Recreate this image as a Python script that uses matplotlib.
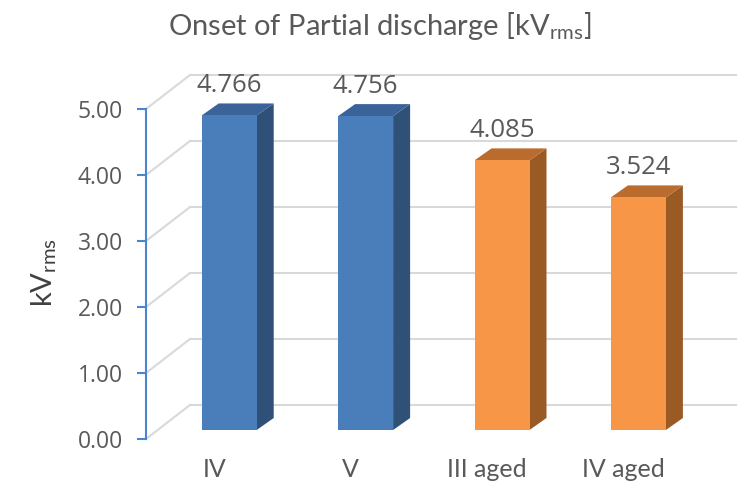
import matplotlib
matplotlib.use('Agg')
import matplotlib.pyplot as plt
from matplotlib.patches import Polygon

# data
categories = ['IV', 'V', 'III aged', 'IV aged']
values = [4.766, 4.756, 4.085, 3.524]
value_labels = ['4.766', '4.756', '4.085', '3.524']
yticks = [0, 1, 2, 3, 4, 5]

plt.rcParams['mathtext.fontset'] = 'custom'
plt.rcParams['mathtext.rm'] = 'Lato'

W, H = 739, 491
fig = plt.figure(figsize=(W / 100, H / 100), dpi=100)

# front plane of the pseudo 3d box (pixels)
left, bottom = 146, 52
ppx = 136.4   # pixels per category
ppy = 66.0    # pixels per kV
ax = fig.add_axes([left / W, bottom / H, 4 * ppx / W, 5 * ppy / H])
ax.set_xlim(-0.5, 3.5)
ax.set_ylim(0, 5)

# offsets in data units
bx, by = 15 / ppx, 9 / ppy      # plane where the bars stand
dx, dy = 17 / ppx, 12 / ppy     # bar depth
gx, gy = 44 / ppx, 34 / ppy     # back wall
bw = 55 / ppx

grid_c = '#d9d9d9'
for y in yticks:
    ax.plot([-0.5, -0.5 + gx], [y, y + gy], color=grid_c, lw=1.5, zorder=1, clip_on=False)
    ax.plot([-0.5 + gx, 3.5 + gx], [y + gy, y + gy], color=grid_c, lw=1.5, zorder=1, clip_on=False)

cols = [('#4a7ebb', '#3a6499', '#2f5077'), ('#4a7ebb', '#3a6499', '#2f5077'),
        ('#f79646', '#b96c2e', '#9a5a24'), ('#f79646', '#b96c2e', '#9a5a24')]

for i, v in enumerate(values):
    front, top, side = cols[i]
    x0 = i - bw / 2 + bx
    x1 = i + bw / 2 + bx
    y0 = by
    y1 = v + by
    ax.add_patch(Polygon([(x1, y0), (x1 + dx, y0 + dy), (x1 + dx, y1 + dy), (x1, y1)],
                         closed=True, fc=side, ec='none', zorder=3, clip_on=False))
    ax.add_patch(Polygon([(x0, y1), (x1, y1), (x1 + dx, y1 + dy), (x0 + dx, y1 + dy)],
                         closed=True, fc=top, ec='none', zorder=3, clip_on=False))
    ax.bar(i + bx, v, width=bw, bottom=by, color=front, zorder=4, clip_on=False)
    ax.annotate(value_labels[i], (i + bx, y1), xytext=(0, 23), textcoords='offset pixels',
                ha='center', va='baseline', fontsize=18.5, color='#595959',
                family='Open Sans', zorder=5, annotation_clip=False)

blue = '#4a86d0'
for s in ['top', 'right', 'bottom']:
    ax.spines[s].set_visible(False)
ax.spines['left'].set_color(blue)
ax.spines['left'].set_linewidth(1.5)
ax.set_yticks(yticks)
ax.set_yticklabels(['%.2f' % t for t in yticks], family='Open Sans', fontsize=16.5, color='#595959')
ax.tick_params(axis='y', length=6.5, width=1.5, color=blue, pad=10)
ax.set_xticks(range(len(categories)))
ax.set_xticklabels(categories, family='Lato', fontsize=18, color='#595959')
ax.tick_params(axis='x', length=0, pad=14)
ax.patch.set_visible(False)

fig.text(380 / W, 1 - 26 / H, r'Onset of Partial discharge [kV$_{\mathrm{rms}}$]',
         ha='center', va='center', fontsize=21, color='#595959', family='Lato')
fig.text(44 / W, 1 - 272 / H, r'kV$_{\mathrm{rms}}$', rotation=90, ha='center', va='center',
         fontsize=21, color='#404040', family='Lato')

fig.savefig('out.png', dpi=100)
